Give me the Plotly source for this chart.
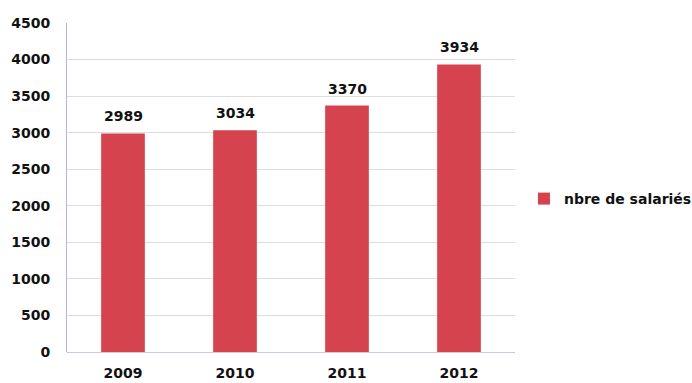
import plotly.graph_objects as go

# Nombre de salariés par année
years = ["2009", "2010", "2011", "2012"]
salaries = [2989, 3034, 3370, 3934]
series_name = "nbre de salariés"
y_ticks = [0, 500, 1000, 1500, 2000, 2500, 3000, 3500, 4000, 4500]

bar_color = "#d5444e"
font_family = "DejaVu Sans"
text_font = dict(family=font_family, size=14, color="#111111", weight="bold")

fig = go.Figure()
fig.add_trace(go.Bar(
    x=years,
    y=salaries,
    name=series_name,
    marker=dict(color=bar_color, line=dict(width=0)),
    showlegend=True,
))

# Value labels above each bar (x given as category index)
for idx, val in enumerate(salaries):
    fig.add_annotation(
        x=idx, y=val, text=str(val), showarrow=False,
        yanchor="bottom", yshift=7,
        font=text_font,
    )

fig.update_layout(
    width=692, height=383,
    margin=dict(l=67, r=177, t=23, b=31, autoexpand=False),
    paper_bgcolor="white",
    plot_bgcolor="white",
    bargap=0.61,
    font=dict(family=font_family, size=14, color="#111111"),
    legend=dict(
        x=1.02, y=0.465, xanchor="left", yanchor="middle",
        font=text_font,
        itemwidth=30,
        bgcolor="rgba(0,0,0,0)",
    ),
    xaxis=dict(
        type="category",
        categoryorder="array", categoryarray=years,
        range=[-0.5, len(years) - 0.5],
        showgrid=False,
        showline=False,
        ticks="outside", ticklen=8, tickcolor="rgba(0,0,0,0)",
        tickfont=text_font,
    ),
    yaxis=dict(
        range=[0, 4500],
        tickvals=y_ticks,
        showgrid=True, gridcolor="#dedede", gridwidth=1,
        zeroline=True, zerolinecolor="#c8c8e6", zerolinewidth=1,
        showline=True, linecolor="#b4b4e0", linewidth=1,
        ticks="outside", ticklen=13, tickcolor="rgba(0,0,0,0)",
        tickfont=text_font,
    ),
)

fig.write_html("out.html")
